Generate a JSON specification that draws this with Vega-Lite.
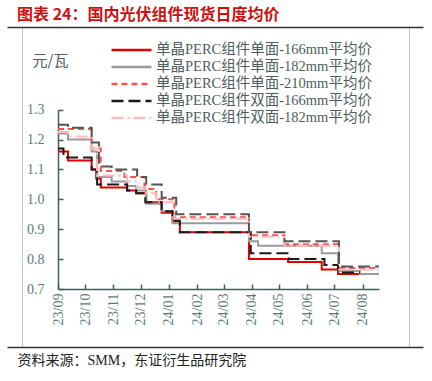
{
  "$schema": "https://vega.github.io/schema/vega-lite/v6.json",
  "width": 387,
  "height": 320,
  "autosize": {"type": "none"},
  "padding": {"left": 22, "top": 27, "right": 23, "bottom": 34},
  "config": {"view": {"stroke": "#c4c4c4", "strokeWidth": 1}},
  "title": {"text": "图表 24：国内光伏组件现货日度均价", "anchor": "start", "frame": "group", "dx": -5, "offset": 4, "color": "#cc1111", "font": "Noto Sans CJK SC", "fontSize": 16, "fontWeight": "bold"},
  "data": {"values": [
    {"s": "单晶PERC组件单面-166mm平均价", "d": "2023-09-01", "v": 1.16},
    {"s": "单晶PERC组件单面-166mm平均价", "d": "2023-09-12", "v": 1.13},
    {"s": "单晶PERC组件单面-166mm平均价", "d": "2023-10-08", "v": 1.10},
    {"s": "单晶PERC组件单面-166mm平均价", "d": "2023-10-13", "v": 1.07},
    {"s": "单晶PERC组件单面-166mm平均价", "d": "2023-10-18", "v": 1.04},
    {"s": "单晶PERC组件单面-166mm平均价", "d": "2023-11-16", "v": 1.03},
    {"s": "单晶PERC组件单面-166mm平均价", "d": "2023-11-26", "v": 1.02},
    {"s": "单晶PERC组件单面-166mm平均价", "d": "2023-12-07", "v": 0.99},
    {"s": "单晶PERC组件单面-166mm平均价", "d": "2023-12-24", "v": 0.955},
    {"s": "单晶PERC组件单面-166mm平均价", "d": "2024-01-05", "v": 0.925},
    {"s": "单晶PERC组件单面-166mm平均价", "d": "2024-01-13", "v": 0.89},
    {"s": "单晶PERC组件单面-166mm平均价", "d": "2024-03-29", "v": 0.80},
    {"s": "单晶PERC组件单面-166mm平均价", "d": "2024-05-11", "v": 0.79},
    {"s": "单晶PERC组件单面-166mm平均价", "d": "2024-06-17", "v": 0.765},
    {"s": "单晶PERC组件单面-166mm平均价", "d": "2024-07-05", "v": 0.75},
    {"s": "单晶PERC组件单面-166mm平均价", "d": "2024-07-29", "v": 0.75},

    {"s": "单晶PERC组件单面-182mm平均价", "d": "2023-09-01", "v": 1.22},
    {"s": "单晶PERC组件单面-182mm平均价", "d": "2023-09-12", "v": 1.20},
    {"s": "单晶PERC组件单面-182mm平均价", "d": "2023-10-08", "v": 1.16},
    {"s": "单晶PERC组件单面-182mm平均价", "d": "2023-10-14", "v": 1.075},
    {"s": "单晶PERC组件单面-182mm平均价", "d": "2023-10-30", "v": 1.06},
    {"s": "单晶PERC组件单面-182mm平均价", "d": "2023-11-16", "v": 1.045},
    {"s": "单晶PERC组件单面-182mm平均价", "d": "2023-11-26", "v": 1.03},
    {"s": "单晶PERC组件单面-182mm平均价", "d": "2023-12-07", "v": 0.985},
    {"s": "单晶PERC组件单面-182mm平均价", "d": "2023-12-24", "v": 0.96},
    {"s": "单晶PERC组件单面-182mm平均价", "d": "2024-01-05", "v": 0.92},
    {"s": "单晶PERC组件单面-182mm平均价", "d": "2024-03-29", "v": 0.86},
    {"s": "单晶PERC组件单面-182mm平均价", "d": "2024-04-08", "v": 0.845},
    {"s": "单晶PERC组件单面-182mm平均价", "d": "2024-06-17", "v": 0.82},
    {"s": "单晶PERC组件单面-182mm平均价", "d": "2024-07-05", "v": 0.76},
    {"s": "单晶PERC组件单面-182mm平均价", "d": "2024-07-29", "v": 0.75},
    {"s": "单晶PERC组件单面-182mm平均价", "d": "2024-08-19", "v": 0.75},

    {"s": "单晶PERC组件单面-210mm平均价", "d": "2023-09-01", "v": 1.235},
    {"s": "单晶PERC组件单面-210mm平均价", "d": "2023-10-08", "v": 1.17},
    {"s": "单晶PERC组件单面-210mm平均价", "d": "2023-10-18", "v": 1.095},
    {"s": "单晶PERC组件单面-210mm平均价", "d": "2023-11-13", "v": 1.075},
    {"s": "单晶PERC组件单面-210mm平均价", "d": "2023-12-05", "v": 1.035},
    {"s": "单晶PERC组件单面-210mm平均价", "d": "2023-12-18", "v": 1.00},
    {"s": "单晶PERC组件单面-210mm平均价", "d": "2024-01-07", "v": 0.94},
    {"s": "单晶PERC组件单面-210mm平均价", "d": "2024-03-29", "v": 0.88},
    {"s": "单晶PERC组件单面-210mm平均价", "d": "2024-05-07", "v": 0.85},
    {"s": "单晶PERC组件单面-210mm平均价", "d": "2024-07-06", "v": 0.77},
    {"s": "单晶PERC组件单面-210mm平均价", "d": "2024-08-19", "v": 0.77},

    {"s": "单晶PERC组件双面-166mm平均价", "d": "2023-09-01", "v": 1.17},
    {"s": "单晶PERC组件双面-166mm平均价", "d": "2023-09-07", "v": 1.14},
    {"s": "单晶PERC组件双面-166mm平均价", "d": "2023-10-08", "v": 1.10},
    {"s": "单晶PERC组件双面-166mm平均价", "d": "2023-10-14", "v": 1.05},
    {"s": "单晶PERC组件双面-166mm平均价", "d": "2023-11-16", "v": 1.03},
    {"s": "单晶PERC组件双面-166mm平均价", "d": "2023-11-26", "v": 1.02},
    {"s": "单晶PERC组件双面-166mm平均价", "d": "2023-12-06", "v": 0.99},
    {"s": "单晶PERC组件双面-166mm平均价", "d": "2023-12-24", "v": 0.96},
    {"s": "单晶PERC组件双面-166mm平均价", "d": "2024-01-05", "v": 0.93},
    {"s": "单晶PERC组件双面-166mm平均价", "d": "2024-01-13", "v": 0.89},
    {"s": "单晶PERC组件双面-166mm平均价", "d": "2024-03-31", "v": 0.82},
    {"s": "单晶PERC组件双面-166mm平均价", "d": "2024-05-12", "v": 0.80},
    {"s": "单晶PERC组件双面-166mm平均价", "d": "2024-06-20", "v": 0.78},
    {"s": "单晶PERC组件双面-166mm平均价", "d": "2024-07-05", "v": 0.755},
    {"s": "单晶PERC组件双面-166mm平均价", "d": "2024-07-29", "v": 0.755},

    {"s": "单晶PERC组件双面-182mm平均价", "d": "2023-09-01", "v": 1.225},
    {"s": "单晶PERC组件双面-182mm平均价", "d": "2023-09-12", "v": 1.21},
    {"s": "单晶PERC组件双面-182mm平均价", "d": "2023-10-08", "v": 1.17},
    {"s": "单晶PERC组件双面-182mm平均价", "d": "2023-10-14", "v": 1.08},
    {"s": "单晶PERC组件双面-182mm平均价", "d": "2023-11-16", "v": 1.06},
    {"s": "单晶PERC组件双面-182mm平均价", "d": "2023-11-27", "v": 1.04},
    {"s": "单晶PERC组件双面-182mm平均价", "d": "2023-12-07", "v": 1.02},
    {"s": "单晶PERC组件双面-182mm平均价", "d": "2023-12-18", "v": 0.99},
    {"s": "单晶PERC组件双面-182mm平均价", "d": "2024-01-07", "v": 0.935},
    {"s": "单晶PERC组件双面-182mm平均价", "d": "2024-03-29", "v": 0.875},
    {"s": "单晶PERC组件双面-182mm平均价", "d": "2024-05-07", "v": 0.845},
    {"s": "单晶PERC组件双面-182mm平均价", "d": "2024-07-06", "v": 0.765},
    {"s": "单晶PERC组件双面-182mm平均价", "d": "2024-08-19", "v": 0.765},

    {"s": "单晶PERC组件双面-210mm平均价", "d": "2023-09-01", "v": 1.25},
    {"s": "单晶PERC组件双面-210mm平均价", "d": "2023-09-12", "v": 1.24},
    {"s": "单晶PERC组件双面-210mm平均价", "d": "2023-10-08", "v": 1.19},
    {"s": "单晶PERC组件双面-210mm平均价", "d": "2023-10-16", "v": 1.11},
    {"s": "单晶PERC组件双面-210mm平均价", "d": "2023-10-30", "v": 1.10},
    {"s": "单晶PERC组件双面-210mm平均价", "d": "2023-11-27", "v": 1.075},
    {"s": "单晶PERC组件双面-210mm平均价", "d": "2023-12-07", "v": 1.05},
    {"s": "单晶PERC组件双面-210mm平均价", "d": "2023-12-24", "v": 1.005},
    {"s": "单晶PERC组件双面-210mm平均价", "d": "2024-01-09", "v": 0.95},
    {"s": "单晶PERC组件双面-210mm平均价", "d": "2024-03-29", "v": 0.89},
    {"s": "单晶PERC组件双面-210mm平均价", "d": "2024-05-07", "v": 0.86},
    {"s": "单晶PERC组件双面-210mm平均价", "d": "2024-07-06", "v": 0.775},
    {"s": "单晶PERC组件双面-210mm平均价", "d": "2024-08-19", "v": 0.775}
  ]},
  "resolve": {"scale": {"x": "independent"}, "axis": {"x": "independent"}},
  "layer": [
    {
      "mark": {"type": "line", "interpolate": "step-after", "strokeWidth": 2},
      "encoding": {
        "x": {"field": "d", "type": "temporal",
          "scale": {"type": "utc", "domain": [{"year": 2023, "month": 9, "date": 1, "utc": true}, {"year": 2024, "month": 8, "date": 19, "utc": true}], "range": [36, 357]},
          "axis": {"orient": "bottom", "offset": -58, "labelExpr": "utcFormat(datum.value, '%y/%m')",
            "values": [
              {"year": 2023, "month": 9, "date": 1, "utc": true},
              {"year": 2023, "month": 10, "date": 1, "utc": true},
              {"year": 2023, "month": 11, "date": 1, "utc": true},
              {"year": 2023, "month": 12, "date": 1, "utc": true},
              {"year": 2024, "month": 1, "date": 1, "utc": true},
              {"year": 2024, "month": 2, "date": 1, "utc": true},
              {"year": 2024, "month": 3, "date": 1, "utc": true},
              {"year": 2024, "month": 4, "date": 1, "utc": true},
              {"year": 2024, "month": 5, "date": 1, "utc": true},
              {"year": 2024, "month": 6, "date": 1, "utc": true},
              {"year": 2024, "month": 7, "date": 1, "utc": true},
              {"year": 2024, "month": 8, "date": 1, "utc": true}
            ],
            "labelAngle": 270, "labelFont": "Liberation Serif", "labelFontSize": 14, "labelColor": "#5d7a78", "labelPadding": 9,
            "tickSize": -5, "tickColor": "#3f5f5a", "tickWidth": 1.5, "domainColor": "#3f5f5a", "domainWidth": 1.5, "grid": false,
            "title": "资料来源：SMM，东证衍生品研究院", "titleX": -5, "titleY": 71, "titleAlign": "left", "titleAnchor": "start", "titleBaseline": "middle",
            "titleFont": "Liberation Serif, Noto Sans CJK SC", "titleFontSize": 14, "titleFontWeight": "normal", "titleColor": "#222222"}},
        "y": {"field": "v", "type": "quantitative",
          "scale": {"domain": [0.7, 1.3], "range": [262, 82.7], "nice": false, "zero": false},
          "axis": {"orient": "left", "offset": -36, "values": [0.7, 0.8, 0.9, 1.0, 1.1, 1.2, 1.3], "format": ".1f",
            "labelFont": "Liberation Serif", "labelFontSize": 14, "labelColor": "#5d7a78", "labelPadding": 19,
            "tickSize": -5, "tickColor": "#3f5f5a", "tickWidth": 1.5, "domainColor": "#3f5f5a", "domainWidth": 1.5, "grid": false,
            "title": "元/瓦", "titleAngle": 0, "titleX": -8, "titleY": 33, "titleAlign": "center", "titleBaseline": "middle",
            "titleFont": "Noto Sans CJK SC", "titleFontSize": 15, "titleFontWeight": "normal", "titleColor": "#4f5d5d"}},
        "color": {"field": "s", "type": "nominal",
          "scale": {"domain": ["单晶PERC组件单面-166mm平均价", "单晶PERC组件单面-182mm平均价", "单晶PERC组件单面-210mm平均价", "单晶PERC组件双面-166mm平均价", "单晶PERC组件双面-182mm平均价", "单晶PERC组件双面-210mm平均价"],
            "range": ["#e00000", "#9a9a9a", "#ff5050", "#1a1a1a", "#ffbcbc", "#555555"]},
          "legend": {"values": ["单晶PERC组件单面-166mm平均价", "单晶PERC组件单面-182mm平均价", "单晶PERC组件单面-210mm平均价", "单晶PERC组件双面-166mm平均价", "单晶PERC组件双面-182mm平均价"],
            "title": null, "orient": "none", "legendX": 88, "legendY": 14.5, "symbolType": "stroke", "symbolSize": 1600, "symbolStrokeWidth": 2.5, "clipHeight": 16.8, "rowPadding": 0,
            "labelFont": "Liberation Serif, Noto Sans CJK SC", "labelFontSize": 14.5, "labelColor": "#4f5d5d", "labelOffset": 3, "labelLimit": 400}},
        "strokeDash": {"field": "s", "type": "nominal",
          "scale": {"domain": ["单晶PERC组件单面-166mm平均价", "单晶PERC组件单面-182mm平均价", "单晶PERC组件单面-210mm平均价", "单晶PERC组件双面-166mm平均价", "单晶PERC组件双面-182mm平均价", "单晶PERC组件双面-210mm平均价"],
            "range": [[1, 0], [1, 0], [6, 4], [12, 5], [12, 4, 2, 4], [12, 5]]},
          "legend": {"values": ["单晶PERC组件单面-166mm平均价", "单晶PERC组件单面-182mm平均价", "单晶PERC组件单面-210mm平均价", "单晶PERC组件双面-166mm平均价", "单晶PERC组件双面-182mm平均价"],
            "title": null, "orient": "none", "legendX": 88, "legendY": 14.5, "symbolType": "stroke", "symbolSize": 1600, "symbolStrokeWidth": 2.5, "clipHeight": 16.8, "rowPadding": 0,
            "labelFont": "Liberation Serif, Noto Sans CJK SC", "labelFontSize": 14.5, "labelColor": "#4f5d5d", "labelOffset": 3, "labelLimit": 400}}
      }
    },
    {
      "mark": {"type": "point", "opacity": 0},
      "encoding": {
        "x": {"field": "d", "type": "temporal", "scale": {"type": "utc", "range": [-15, 401]},
          "axis": {"orient": "top", "offset": 0, "domainColor": "#333333", "domainWidth": 1.5, "ticks": false, "labels": false, "grid": false, "title": null}}
      }
    },
    {
      "mark": {"type": "point", "opacity": 0},
      "encoding": {
        "x": {"field": "d", "type": "temporal", "scale": {"type": "utc", "range": [-15, 401]},
          "axis": {"orient": "bottom", "offset": 0, "domainColor": "#333333", "domainWidth": 1.5, "ticks": false, "labels": false, "grid": false, "title": null}}
      }
    }
  ]
}
